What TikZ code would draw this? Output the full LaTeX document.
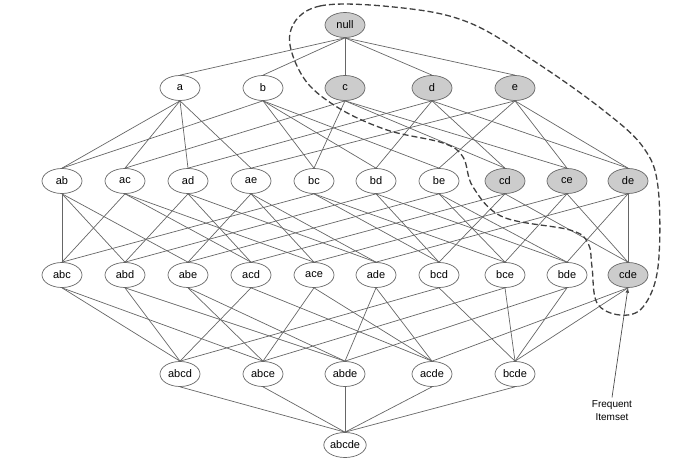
\documentclass[tikz,border=0pt]{standalone}
\usepackage{fontspec}
\setmainfont{Liberation Sans}
\usetikzlibrary{shapes.geometric,backgrounds}
\begin{document}
\begin{tikzpicture}[x=1pt,y=-1pt,
  item/.style={draw=black!60,ellipse,minimum width=40pt,minimum height=25pt,inner sep=0pt,font=\fontsize{11}{13}\selectfont,fill=white,line width=0.7pt},
  freq/.style={item,fill=black!20},
  edge/.style={draw=black!60,line width=0.7pt}]
\useasboundingbox (0,0) rectangle (688,468);
\node[freq] (null) at (345,25) {null};
\foreach \n/\x in {a/180,b/263}{\node[item] (\n) at (\x,88) {\n};}
\foreach \n/\x in {c/345,d/432,e/515}{\node[freq] (\n) at (\x,88) {\n};}
\foreach \n/\x in {ab/62,ac/125,ad/188,ae/251,bc/314,bd/376,be/439}{\node[item] (\n) at (\x,181) {\n};}
\foreach \n/\x in {cd/505,ce/567,de/628}{\node[freq] (\n) at (\x,181) {\n};}
\foreach \n/\x in {abc/62,abd/125,abe/188,acd/251,ace/314,ade/376,bcd/439,bce/505,bde/567}{\node[item] (\n) at (\x,275) {\n};}
\node[freq] (cde) at (628,275) {cde};
\foreach \n/\x in {abcd/180,abce/263,abde/345,acde/432,bcde/515}{\node[item] (\n) at (\x,374) {\n};}
\node[item] (abcde) at (345,445) {abcde};
\begin{scope}[on background layer]
\foreach \u/\v in {null/a,null/b,null/c,null/d,null/e,
 a/ab,a/ac,a/ad,a/ae,b/ab,b/bc,b/bd,b/be,c/ac,c/bc,c/cd,c/ce,d/ad,d/bd,d/cd,d/de,e/ae,e/be,e/ce,e/de,
 ab/abc,ab/abd,ab/abe,ac/abc,ac/acd,ac/ace,ad/abd,ad/acd,ad/ade,ae/abe,ae/ace,ae/ade,bc/abc,bc/bcd,bc/bce,bd/abd,bd/bcd,bd/bde,be/abe,be/bce,be/bde,cd/acd,cd/bcd,cd/cde,ce/ace,ce/bce,ce/cde,de/ade,de/bde,de/cde,
 abc/abcd,abc/abce,abd/abcd,abd/abde,abe/abce,abe/abde,acd/abcd,acd/acde,ace/abce,ace/acde,ade/abde,ade/acde,bcd/abcd,bcd/bcde,bce/abce,bce/bcde,bde/abde,bde/bcde,cde/acde,cde/bcde,
 abcd/abcde,abce/abcde,abde/abcde,acde/abcde,bcde/abcde}
 {\draw[edge] (\u.south) -- (\v.north);}
\end{scope}
\draw[black!75,line width=1.3pt,dash pattern=on 6pt off 3pt]
 plot[smooth cycle,tension=0.6] coordinates {(290,33) (320,6) (403,8) (470,23) (537,63) (603,110) (643,147) (658,187) (658,267) (643,307) (620,315) (597,303) (592,267) (588,243) (570,230) (503,217) (473,187) (463,157) (443,143) (387,130) (337,107) (303,77)};
\node[align=center,font=\fontsize{10}{13}\selectfont] (lab) at (612,411) {Frequent\\Itemset};
\draw[-latex,black!70,line width=0.7pt] (lab.north) -- (cde.south);
\end{tikzpicture}
\end{document}
